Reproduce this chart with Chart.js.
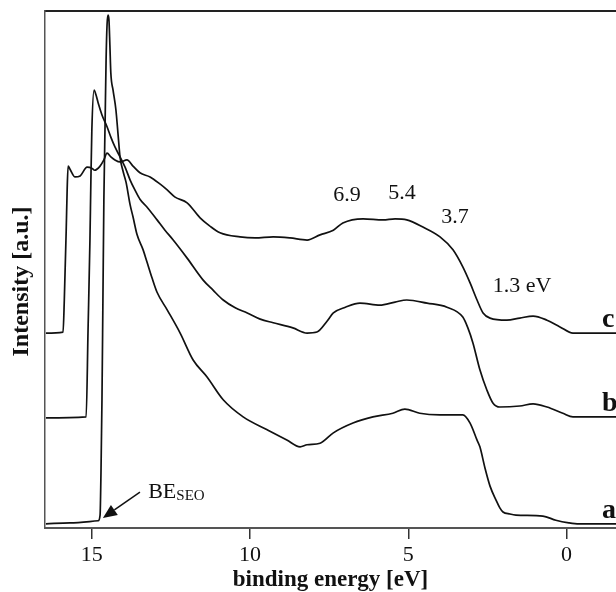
<!DOCTYPE html>
<html><head><meta charset="utf-8">
<script src="https://cdn.jsdelivr.net/npm/chart.js@4/dist/chart.umd.min.js"></script>
<style>html,body{margin:0;padding:0;background:#fff;overflow:hidden}canvas{display:block}</style>
</head><body>
<canvas id="c" width="616" height="592"></canvas>
<script>
// ---- data (binding energy in eV, intensity in arbitrary units) ----
const seriesNames = ['a', 'b', 'c'];
const xTicks = [15, 10, 5, 0];

const energyA = [16.45,15.69,14.80,14.74,14.71,14.68,14.65,14.62,14.58,14.55,14.52,14.49,14.46,14.43,14.40,14.33,14.24,14.17,14.11,14.01,13.92,13.79,13.70,13.57,13.38,13.26,13.10,12.94,12.62,12.21,11.80,11.36,10.85,10.22,9.46,8.84,8.42,8.20,7.79,7.37,6.75,6.12,5.49,5.11,4.64,4.00,3.28,3.05,2.83,2.74,2.58,2.42,2.23,2.11,2.01,1.79,1.60,0.75,0.34,-0.07,-0.39,-1.56];
const intensityA = [0.8,1.0,1.4,2.5,11.2,24.8,44.1,63.4,78.9,90.5,97.3,99.2,98.3,93.4,88.0,84.7,80.9,76.0,71.8,68.9,66.9,62.5,60.2,56.7,53.8,51.5,48.4,45.6,42.2,37.7,32.5,29.2,24.8,21.5,19.0,17.0,15.7,16.1,16.4,18.4,20.3,21.5,22.2,23.0,22.2,21.9,21.9,20.3,17.0,15.7,11.6,8.1,5.4,3.9,3.1,2.7,2.5,2.3,1.5,1.0,0.8,0.8];

const energyB = [16.45,15.18,15.12,15.06,15.03,15.00,14.93,14.87,14.80,14.68,14.52,14.40,14.27,14.11,13.95,13.79,13.64,13.48,13.26,12.94,12.69,12.43,11.99,11.49,11.17,10.85,10.47,10.09,9.68,9.27,8.65,8.20,7.89,7.57,7.37,6.99,6.53,5.90,5.42,5.05,4.41,3.78,3.28,3.12,2.96,2.74,2.52,2.33,2.11,1.48,1.06,0.62,0.12,-0.20,-1.56];
const intensityB = [21.3,21.5,38.3,55.7,67.3,77.0,84.7,83.8,82.2,79.9,77.6,75.6,73.7,71.8,69.8,67.3,65.4,63.6,62.1,59.6,57.6,55.7,52.2,48.0,46.0,44.1,42.6,41.6,40.4,39.7,38.7,37.7,37.9,40.0,41.6,42.7,43.5,43.1,43.7,44.1,43.5,42.7,40.8,38.7,35.8,30.6,26.7,24.2,23.4,23.6,24.0,23.4,22.2,21.5,21.5];

const energyC = [16.45,15.91,15.87,15.81,15.78,15.75,15.69,15.53,15.37,15.15,15.00,14.91,14.74,14.62,14.52,14.40,14.27,14.11,13.89,13.70,13.48,13.16,12.84,12.62,12.37,11.99,11.58,11.27,10.95,10.32,9.84,9.27,8.74,8.20,7.79,7.37,7.07,6.43,5.80,5.42,5.05,4.54,4.00,3.59,3.28,3.05,2.83,2.64,2.42,1.89,1.48,1.06,0.62,0.21,-0.20,-1.56];
const intensityC = [37.7,37.9,44.1,57.6,65.4,70.0,69.4,67.9,68.1,69.8,69.6,69.2,70.0,71.2,72.5,71.8,71.2,70.8,71.2,70.0,68.7,67.9,66.5,65.4,64.0,62.9,60.0,58.4,57.1,56.3,56.1,56.3,56.1,55.7,56.7,57.6,59.0,59.8,59.6,59.8,59.6,58.2,56.3,53.8,50.5,47.4,44.1,41.6,40.6,40.2,40.6,41.0,40.2,38.9,37.7,37.7];

// peak annotations (text + anchor in data units)
const peakTexts = ['6.9', '5.4', '3.7', '1.3 eV'];
const peakAnchorE = [6.94, 5.20, 3.53, 1.41];
const peakAnchorI = [64.4, 64.8, 60.2, 46.8];

// ---- chart ----
const SERIF = "'Liberation Serif','Times New Roman',serif";
const toPts = (xs, ys) => xs.map((e, i) => ({x: e, y: ys[i]}));
const curve = (label, xs, ys) => ({
  label, data: toPts(xs, ys), borderColor: '#111', borderWidth: 1.7,
  pointRadius: 0, cubicInterpolationMode: 'monotone', fill: false
});

const notes = {
  id: 'notes',
  afterDatasetsDraw(chart) {
    const {ctx, scales: {x, y}} = chart;
    ctx.save();
    ctx.fillStyle = '#111';
    ctx.strokeStyle = '#111';
    // peak energies
    ctx.font = '22px ' + SERIF;
    ctx.textAlign = 'center';
    ctx.textBaseline = 'middle';
    peakTexts.forEach((t, i) => ctx.fillText(t, x.getPixelForValue(peakAnchorE[i]), y.getPixelForValue(peakAnchorI[i])));
    // curve labels at right end of each curve
    ctx.font = 'bold 28px ' + SERIF;
    ctx.textAlign = 'left';
    ctx.textBaseline = 'alphabetic';
    chart.data.datasets.forEach((ds, k) => {
      const last = ds.data[ds.data.length - 1];
      ctx.fillText(seriesNames[k], x.getPixelForValue(-1.115), y.getPixelForValue(last.y) - 6);
    });
    // BE_SEO label + arrow
    const bx = x.getPixelForValue(13.22), by = y.getPixelForValue(5.8);
    ctx.font = '22px ' + SERIF;
    ctx.fillText('BE', bx, by);
    const w = ctx.measureText('BE').width;
    ctx.font = '15px ' + SERIF;
    ctx.fillText('SEO', bx + w, by + 2);
    const x0 = x.getPixelForValue(13.48), y0 = y.getPixelForValue(6.96);
    const x1 = x.getPixelForValue(14.65), y1 = y.getPixelForValue(1.93);
    const ang = Math.atan2(y1 - y0, x1 - x0);
    const hl = 14, hw = 6;
    const bxh = x1 - hl * Math.cos(ang), byh = y1 - hl * Math.sin(ang);
    ctx.lineWidth = 1.5;
    ctx.beginPath(); ctx.moveTo(x0, y0); ctx.lineTo(bxh, byh); ctx.stroke();
    ctx.beginPath();
    ctx.moveTo(x1, y1);
    ctx.lineTo(bxh + hw * Math.sin(ang), byh - hw * Math.cos(ang));
    ctx.lineTo(bxh - hw * Math.sin(ang), byh + hw * Math.cos(ang));
    ctx.closePath(); ctx.fill();
    ctx.restore();
  }
};

new Chart(document.getElementById('c'), {
  type: 'line',
  data: {
    datasets: [
      curve('a', energyA, intensityA),
      curve('b', energyB, intensityB),
      curve('c', energyC, intensityC)
    ]
  },
  options: {
    responsive: false,
    animation: false,
    layout: {padding: {top: 11, left: 0, right: 0, bottom: 0}},
    plugins: {legend: {display: false}, tooltip: {enabled: false}},
    scales: {
      x: {
        type: 'linear', position: 'bottom', reverse: true, min: -1.56, max: 16.48,
        afterBuildTicks: s => { s.ticks = xTicks.map(v => ({value: v})); },
        afterFit: s => { s.height = 64; },
        ticks: {font: {family: SERIF, size: 22}, color: '#111', padding: 3, maxRotation: 0, autoSkip: false},
        grid: {drawOnChartArea: false, drawTicks: true, tickLength: 11, color: '#333', lineWidth: 1.5},
        border: {display: true, color: '#555', width: 2},
        title: {display: true, text: 'binding energy [eV]', color: '#111',
          font: {family: SERIF, size: 23, weight: 'bold', lineHeight: 1}, padding: {top: 0, bottom: 0}}
      },
      xTop: {
        type: 'linear', position: 'top', display: true,
        ticks: {display: false}, grid: {display: false},
        border: {display: true, color: '#222', width: 2},
        afterFit: s => { s.height = 0; }
      },
      y: {
        type: 'linear', min: 0, max: 100,
        afterFit: s => { s.width = 45; },
        ticks: {display: false}, grid: {display: false},
        border: {display: true, color: '#555', width: 1.5},
        title: {display: true, text: 'Intensity [a.u.]\u2002\u2002', color: '#111',
          font: {family: SERIF, size: 24, weight: 'bold', lineHeight: 1}, padding: {top: 10, bottom: 0}}
      }
    }
  },
  plugins: [notes]
});
</script>
</body></html>
